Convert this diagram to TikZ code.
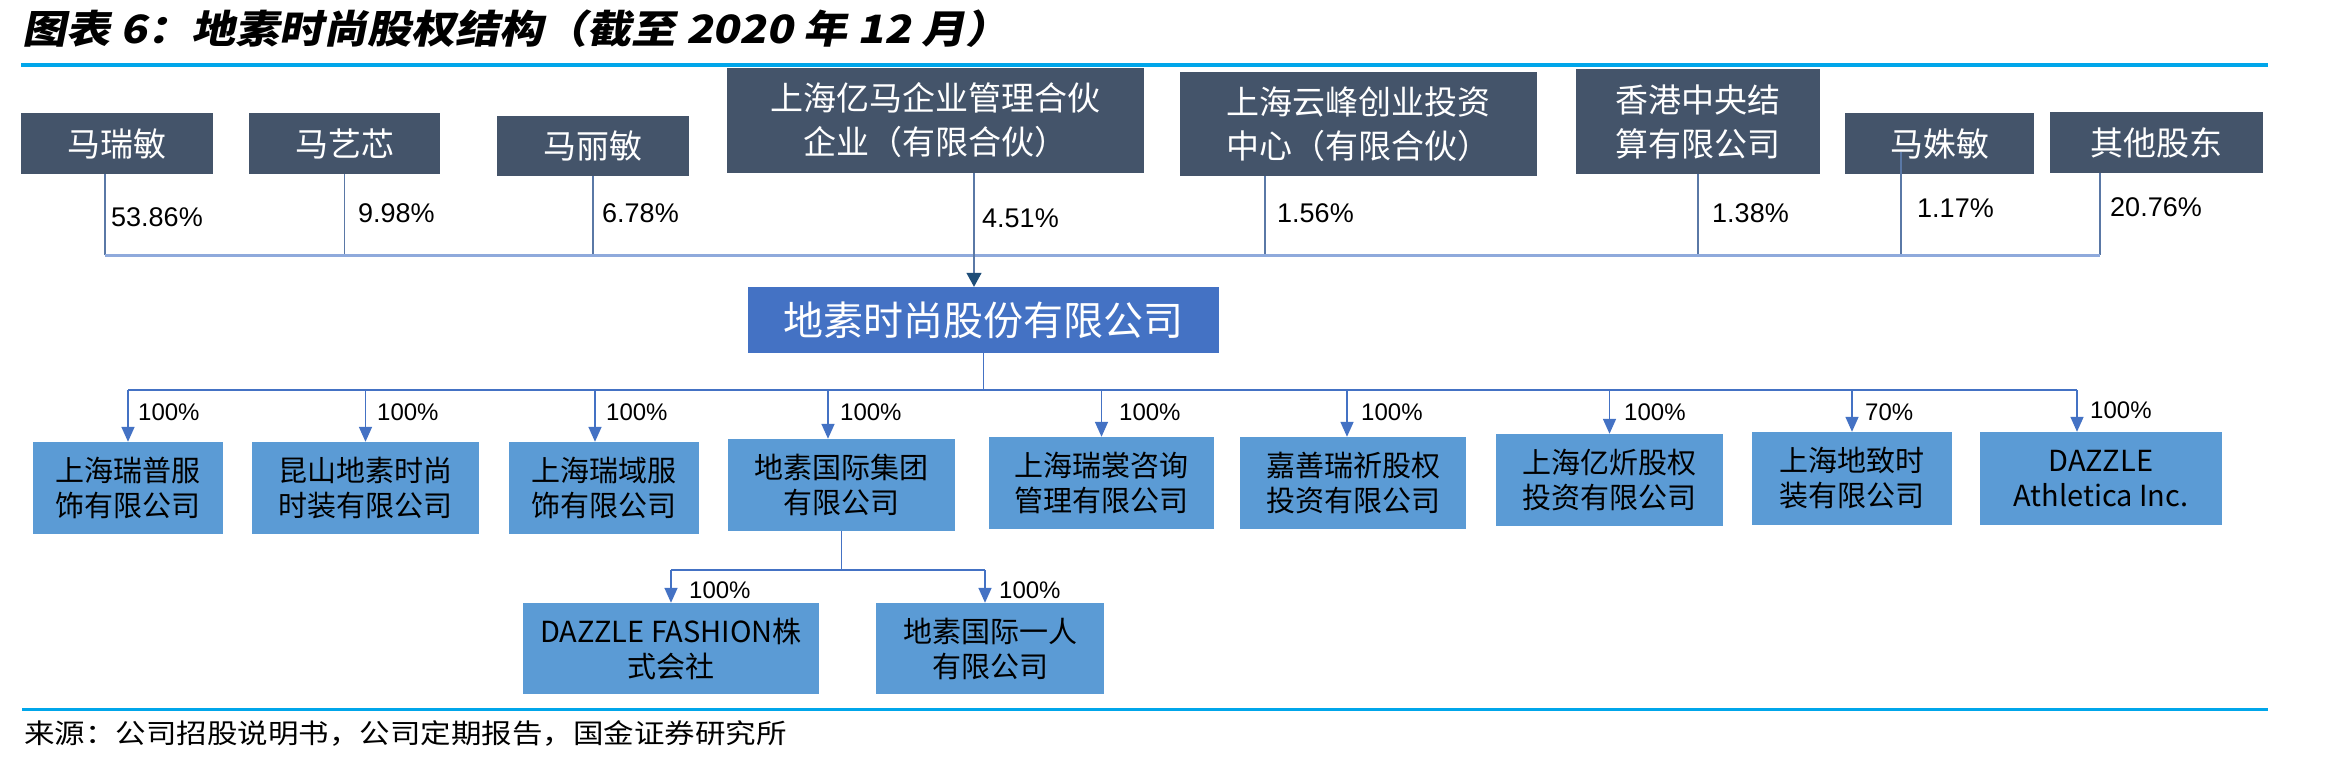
\documentclass[tikz,border=0pt]{standalone}
\usepackage{fontspec}
\setmainfont{Liberation Sans}
\newfontfamily\cjk{Noto Sans CJK SC}
\newfontfamily\cjkt{Noto Sans CJK SC}[FakeSlant=0.2,FakeStretch=1.13]
\newfontfamily\cjks{Noto Sans CJK SC}[FakeStretch=1.13]
\usetikzlibrary{arrows.meta,calc}
\definecolor{dkbox}{HTML}{44546A}
\definecolor{mainbox}{HTML}{4472C4}
\definecolor{subbox}{HTML}{5B9BD5}
\definecolor{rulec}{HTML}{00A6EA}
\definecolor{topline}{HTML}{5A78A6}
\definecolor{topbus}{HTML}{8FAADC}
\definecolor{navyc}{HTML}{1F4E79}
\tikzset{
  dk/.style={fill=dkbox, text=white, inner sep=0pt, align=center, font=\cjk\fontsize{33}{44}\selectfont},
  mn/.style={fill=mainbox, text=white, inner sep=0pt, font=\cjk\fontsize{40}{44}\selectfont},
  sb/.style={fill=subbox, text=black, inner sep=0pt, align=center, font=\cjk\fontsize{29}{35}\selectfont},
  pct/.style={anchor=west, inner sep=0pt, font=\fontsize{27}{30}\selectfont},
  pcs/.style={anchor=west, inner sep=0pt, font=\fontsize{24}{28}\selectfont},
  upl/.style={draw=topline, line width=1.3pt},
  tbus/.style={draw=topbus, line width=3pt},
  sbl/.style={draw=mainbox, line width=1.6pt},
  sarr/.style={sbl, -{Triangle[width=13pt,length=15pt,color=mainbox]}},
  narr/.style={upl, -{Triangle[width=15pt,length=14pt,color=navyc]}},
  rulel/.style={draw=rulec, line width=3.5pt}
}
\begin{document}
\begin{tikzpicture}[x=1pt,y=-1pt]
\useasboundingbox[fill=white] (0,0) rectangle (2349,766);
% title and rules
\node[anchor=west, inner sep=0pt, font=\cjkt\bfseries\fontsize{39}{40}\selectfont] (title) at (22,29) {图表 6：地素时尚股权结构（截至 2020 年 12 月）};
\draw[rulel] (21,65) -- (2268,65);
\draw[rulel, line width=3pt] (22,709) -- (2268,709);
\node[anchor=west, inner sep=0pt, font=\cjks\fontsize{27}{28}\selectfont] (src) at (24,733) {来源：公司招股说明书，公司定期报告，国金证券研究所};
% shareholders
\node[dk, minimum width=192pt, minimum height=61pt] (a1) at (117,143.5) {马瑞敏};
\node[dk, minimum width=191pt, minimum height=61pt] (a2) at (344.5,143.5) {马艺芯};
\node[dk, minimum width=192pt, minimum height=60pt] (a3) at (593,146) {马丽敏};
\node[dk, minimum width=417pt, minimum height=105pt] (a4) at (935.5,120.5) {上海亿马企业管理合伙\\企业（有限合伙）};
\node[dk, minimum width=357pt, minimum height=104pt] (a5) at (1358.5,124) {上海云峰创业投资\\中心（有限合伙）};
\node[dk, minimum width=244pt, minimum height=105pt] (a6) at (1698,121.5) {香港中央结\\算有限公司};
\node[dk, minimum width=189pt, minimum height=61pt] (a7) at (1939.5,143.5) {马姝敏};
\node[dk, minimum width=213pt, minimum height=61pt] (a8) at (2156.5,142.5) {其他股东};
% main company
\node[mn, minimum width=471pt, minimum height=66pt] (m) at (983.5,320) {地素时尚股份有限公司};
% subsidiaries
\node[sb, minimum width=190pt, minimum height=92pt] (c1) at (128,488) {上海瑞普服\\饰有限公司};
\node[sb, minimum width=227pt, minimum height=92pt] (c2) at (365.5,488) {昆山地素时尚\\时装有限公司};
\node[sb, minimum width=190pt, minimum height=92pt] (c3) at (604,488) {上海瑞域服\\饰有限公司};
\node[sb, minimum width=227pt, minimum height=92pt] (c4) at (841.5,485) {地素国际集团\\有限公司};
\node[sb, minimum width=225pt, minimum height=92pt] (c5) at (1101.5,483) {上海瑞裳咨询\\管理有限公司};
\node[sb, minimum width=226pt, minimum height=92pt] (c6) at (1353,483) {嘉善瑞祈股权\\投资有限公司};
\node[sb, minimum width=227pt, minimum height=92pt] (c7) at (1609.5,480) {上海亿炘股权\\投资有限公司};
\node[sb, minimum width=200pt, minimum height=93pt] (c8) at (1852,478.5) {上海地致时\\装有限公司};
\node[sb, minimum width=242pt, minimum height=93pt] (c9) at (2101,478.5) {DAZZLE\\Athletica Inc.};
\node[sb, minimum width=296pt, minimum height=91pt] (d1) at (671,648.5) {DAZZLE FASHION株\\式会社};
\node[sb, minimum width=228pt, minimum height=91pt] (d2) at (990,648.5) {地素国际一人\\有限公司};
% top connectors
\coordinate (tb) at (0,255);
\coordinate (a1o) at ([xshift=-12pt]a1.south);
\coordinate (a2o) at (a2.south);
\coordinate (a3o) at (a3.south);
\coordinate (a4o) at ([xshift=38.5pt]a4.south);
\coordinate (a5o) at ([xshift=-93.5pt]a5.south);
\coordinate (a6o) at (a6.south);
\coordinate (a7o) at ([xshift=-38.5pt,yshift=22pt]a7.south);
\coordinate (a8o) at ([xshift=-56.5pt]a8.south);
\foreach \n in {a1o,a2o,a3o,a5o,a6o,a7o,a8o} \draw[upl] (\n) -- (\n |- tb);
\draw[tbus] (a1o |- tb) -- (a8o |- tb);
\draw[narr] (a4o) -- (a4o |- m.north);
% percentages
\node[pct] (p1) at (111,217) {53.86\%};
\node[pct] (p2) at (358,213) {9.98\%};
\node[pct] (p3) at (602,213) {6.78\%};
\node[pct] (p4) at (982,218) {4.51\%};
\node[pct] (p5) at (1277,213) {1.56\%};
\node[pct] (p6) at (1712,213) {1.38\%};
\node[pct] (p7) at (1917,208) {1.17\%};
\node[pct] (p8) at (2110,207) {20.76\%};
% subsidiary connectors
\coordinate (cb) at (0,390);
\coordinate (c1o) at (c1.north);
\coordinate (c2o) at (c2.north);
\coordinate (c3o) at ([xshift=-9pt]c3.north);
\coordinate (c4o) at ([xshift=-13.5pt]c4.north);
\coordinate (c5o) at (c5.north);
\coordinate (c6o) at ([xshift=-6pt]c6.north);
\coordinate (c7o) at (c7.north);
\coordinate (c8o) at (c8.north);
\coordinate (c9o) at ([xshift=-24pt]c9.north);
\draw[sbl] (m.south) -- (m.south |- cb);
\draw[sbl] (c1o |- cb) -- (c9o |- cb);
\foreach \n in {c1o,c2o,c3o,c4o,c5o,c6o,c7o,c8o,c9o} \draw[sarr] (\n |- cb) -- (\n);
\node[pcs] (q1) at (138,412) {100\%};
\node[pcs] (q2) at (377,412) {100\%};
\node[pcs] (q3) at (606,412) {100\%};
\node[pcs] (q4) at (840,412) {100\%};
\node[pcs] (q5) at (1119,412) {100\%};
\node[pcs] (q6) at (1361,412) {100\%};
\node[pcs] (q7) at (1624,412) {100\%};
\node[pcs] (q8) at (1865,412) {70\%};
\node[pcs] (q9) at (2090,410) {100\%};
% second level
\coordinate (db) at (0,570);
\coordinate (d1o) at (d1.north);
\coordinate (d2o) at ([xshift=-5pt]d2.north);
\draw[sbl] (c4.south) -- (c4.south |- db);
\draw[sbl] (d1o |- db) -- (d2o |- db);
\draw[sarr] (d1o |- db) -- (d1o);
\draw[sarr] (d2o |- db) -- (d2o);
\node[pcs] (r1) at (689,590) {100\%};
\node[pcs] (r2) at (999,590) {100\%};
\end{tikzpicture}
\end{document}
